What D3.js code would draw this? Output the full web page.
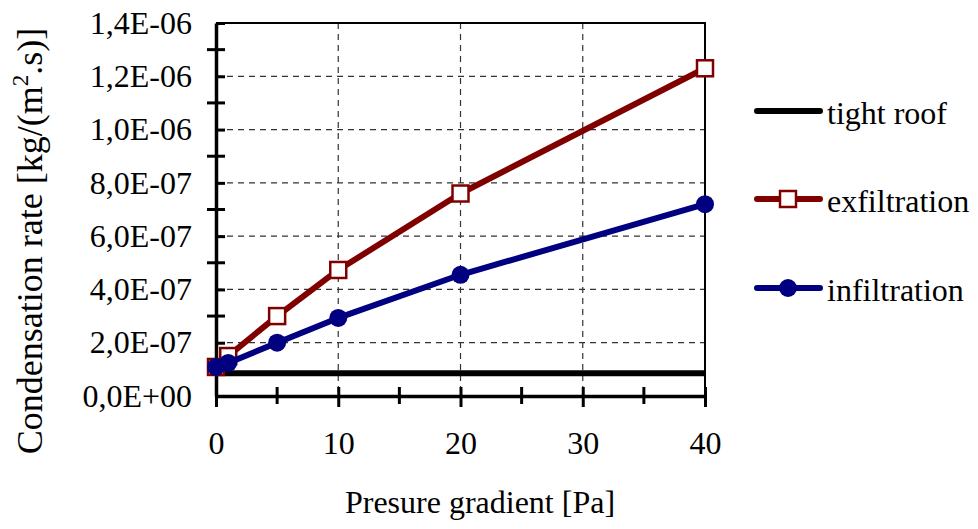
<!DOCTYPE html>
<html>
<head>
<meta charset="utf-8">
<script src="https://cdn.jsdelivr.net/npm/d3@7"></script>
</head>
<body style="margin:0">
<svg width="978" height="529"></svg>
<script>
const svg = d3.select('svg');
const FONT = 'Times New Roman';

// data
const pressure = [0, 1, 5, 10, 20, 40];
const tight_roof = [8.5e-8, 8.5e-8, 8.5e-8, 8.5e-8, 8.5e-8, 8.5e-8];
const exfiltration = [1.09e-7, 1.5e-7, 3.0e-7, 4.73e-7, 7.6e-7, 1.23e-6];
const infiltration = [1.09e-7, 1.24e-7, 2.0e-7, 2.93e-7, 4.55e-7, 7.2e-7];
const series_names = ['tight roof', 'exfiltration', 'infiltration'];
const y_ticks = [0, 2e-7, 4e-7, 6e-7, 8e-7, 1e-6, 1.2e-6, 1.4e-6];
const y_minor = [1e-7, 3e-7, 5e-7, 7e-7, 9e-7, 1.1e-6, 1.3e-6];
const x_ticks = [0, 10, 20, 30, 40];
const x_minor = [5, 15, 25, 35];

const margin = {top: 23, left: 216, right: 273, bottom: 133};
const chart_width = 978 - margin.left - margin.right;
const chart_height = 529 - margin.top - margin.bottom;
const chart_g = svg.append('g').attr('transform', `translate(${margin.left},${margin.top})`);

const x_scale = d3.scaleLinear().domain([0, 40]).range([0, chart_width]);
const y_scale = d3.scaleLinear().domain([0, 1.4e-6]).range([chart_height, 0]);

const fmt = v => {
  if (v === 0) return '0,0E+00';
  const exp = Math.floor(Math.log10(v) + 1e-9);
  const mant = v / Math.pow(10, exp);
  const e = exp < 0 ? '-' + String(-exp).padStart(2, '0') : '+' + String(exp).padStart(2, '0');
  return mant.toFixed(1).replace('.', ',') + 'E' + e;
};

//gridlines
chart_g.append('g').selectAll('line').data(y_ticks.slice(1, -1)).enter()
  .append('line')
    .attr('x1', 0).attr('x2', chart_width)
    .attr('y1', d => y_scale(d)).attr('y2', d => y_scale(d))
    .attr('stroke', '#333').attr('stroke-width', 1.2).attr('stroke-dasharray', '6,5');
chart_g.append('g').selectAll('line').data(x_ticks.slice(1, -1)).enter()
  .append('line')
    .attr('x1', d => x_scale(d)).attr('x2', d => x_scale(d))
    .attr('y1', 0).attr('y2', chart_height)
    .attr('stroke', '#333').attr('stroke-width', 1.2).attr('stroke-dasharray', '6,5');

//frame top/right
chart_g.append('path')
  .attr('d', `M0,0H${chart_width}V${chart_height}`)
  .attr('fill', 'none').attr('stroke', '#000').attr('stroke-width', 2);

//left axis
const y_axis = chart_g.append('g')
  .call(d3.axisLeft(y_scale).tickValues(y_ticks).tickFormat(fmt).tickSizeInner(11).tickSizeOuter(0).tickPadding(13));
y_axis.attr('font-family', FONT).attr('font-size', 32);
y_axis.select('.domain').attr('stroke-width', 3.5);
y_axis.selectAll('.tick line').attr('x2', 9).attr('stroke-width', 3);
y_axis.selectAll('.tick text').attr('fill', '#000');
chart_g.append('g').selectAll('line').data(y_minor).enter()
  .append('line')
    .attr('x1', -9).attr('x2', 9)
    .attr('y1', d => y_scale(d)).attr('y2', d => y_scale(d))
    .attr('stroke', '#000').attr('stroke-width', 3);

//bottom axis
const x_axis = chart_g.append('g')
  .attr('transform', `translate(0,${chart_height})`)
  .call(d3.axisBottom(x_scale).tickValues(x_ticks).tickSizeInner(11).tickSizeOuter(0).tickPadding(24));
x_axis.attr('font-family', FONT).attr('font-size', 32);
x_axis.select('.domain').attr('stroke-width', 3.5);
x_axis.selectAll('.tick line').attr('y1', -9).attr('stroke-width', 3);
x_axis.selectAll('.tick text').attr('fill', '#000');
chart_g.append('g').selectAll('line').data(x_minor).enter()
  .append('line')
    .attr('x1', d => x_scale(d)).attr('x2', d => x_scale(d))
    .attr('y1', chart_height - 9).attr('y2', chart_height + 8)
    .attr('stroke', '#000').attr('stroke-width', 3);

//series
const series = [
  {name: series_names[0], values: tight_roof, color: '#000000', marker: null},
  {name: series_names[1], values: exfiltration, color: '#800000', marker: 'square'},
  {name: series_names[2], values: infiltration, color: '#000080', marker: 'circle'}
];
const line = d3.line().x((d, i) => x_scale(pressure[i])).y(d => y_scale(d));

const draw_marker = (g, s, x, y) => {
  if (s.marker === 'square') {
    g.append('rect').attr('x', x - 8).attr('y', y - 8).attr('width', 16).attr('height', 16)
      .attr('fill', '#fff').attr('stroke', s.color).attr('stroke-width', 2.5);
  } else if (s.marker === 'circle') {
    g.append('circle').attr('cx', x).attr('cy', y).attr('r', 9).attr('fill', s.color);
  }
};

for (const s of series) {
  chart_g.append('path').datum(s.values)
    .attr('d', line).attr('fill', 'none')
    .attr('stroke', s.color).attr('stroke-width', 6).attr('stroke-linejoin', 'round');
  const mg = chart_g.append('g');
  s.values.forEach((v, i) => draw_marker(mg, s, x_scale(pressure[i]), y_scale(v)));
}

//legend
const legend_y = [111, 199, 288];
series.forEach((s, i) => {
  const g = svg.append('g').attr('transform', `translate(0,${legend_y[i]})`);
  g.append('line').attr('x1', 757).attr('x2', 820).attr('y1', 0).attr('y2', 0)
    .attr('stroke', s.color).attr('stroke-width', 6).attr('stroke-linecap', 'round');
  draw_marker(g, s, 788, 0);
  g.append('text').attr('x', 827).attr('y', 13)
    .attr('font-family', FONT).attr('font-size', 32).attr('fill', '#000').text(s.name);
});

//axis titles
svg.append('text')
  .attr('x', 480).attr('y', 513)
  .attr('text-anchor', 'middle')
  .attr('font-family', FONT).attr('font-size', 32)
  .text('Presure gradient [Pa]');
const yt = svg.append('text')
  .attr('transform', 'translate(42,241) rotate(-90)')
  .attr('text-anchor', 'middle')
  .attr('font-family', FONT).attr('font-size', 36);
yt.append('tspan').text('Condensation rate [kg/(m');
yt.append('tspan').attr('font-size', 23).attr('dy', -14).text('2');
yt.append('tspan').attr('dy', 14).text('.s)]');
</script>
</body>
</html>
